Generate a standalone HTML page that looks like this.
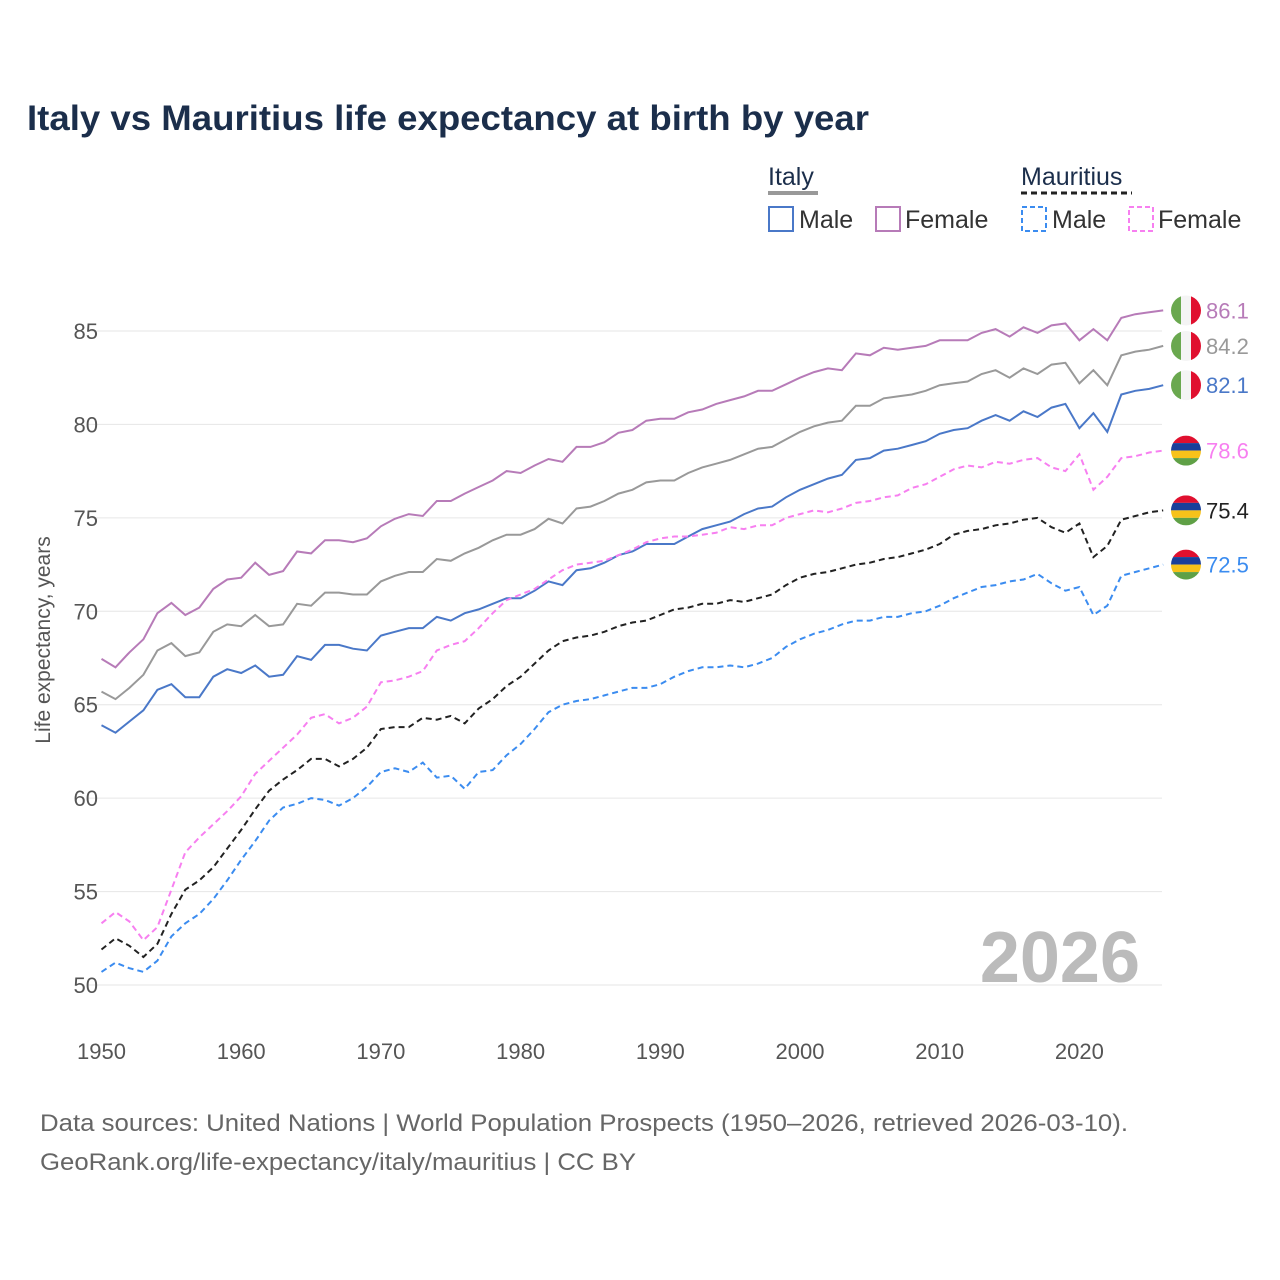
<!DOCTYPE html>
<html><head><meta charset="utf-8"><style>
body{margin:0;background:#fff;}
svg{font-family:"Liberation Sans",sans-serif;display:block;}
</style></head><body>
<svg id="chart" width="1280" height="1280" viewBox="0 0 1280 1280" xmlns="http://www.w3.org/2000/svg">
<rect width="1280" height="1280" fill="#fff"/>
<text x="27" y="130" font-size="35" font-weight="bold" fill="#1b2e4b" textLength="842" lengthAdjust="spacingAndGlyphs">Italy vs Mauritius life expectancy at birth by year</text>
<g font-size="25" fill="#333">
<text x="768" y="185" fill="#1b2e4b">Italy</text>
<line x1="768" y1="193" x2="818" y2="193" stroke="#999" stroke-width="4"/>
<text x="1021" y="185" fill="#1b2e4b">Mauritius</text>
<line x1="1021" y1="193" x2="1132" y2="193" stroke="#222" stroke-width="3" stroke-dasharray="6,4"/>
<g><rect x="769" y="207" width="24" height="24" fill="none" stroke="#4a78c8" stroke-width="2"/><text x="799" y="228">Male</text></g>
<g><rect x="876" y="207" width="24" height="24" fill="none" stroke="#b77bb8" stroke-width="2"/><text x="905" y="228">Female</text></g>
<g><rect x="1022" y="207" width="24" height="24" fill="none" stroke="#3b8cf0" stroke-width="2" stroke-dasharray="5,3"/><text x="1052" y="228">Male</text></g>
<g><rect x="1129" y="207" width="24" height="24" fill="none" stroke="#f77ff0" stroke-width="2" stroke-dasharray="5,3"/><text x="1158" y="228">Female</text></g>
</g>
<g id="grid"></g>
<text x="1140" y="982" text-anchor="end" font-size="72" font-weight="bold" fill="#bbb">2026</text>
<g id="series"></g>
<g id="labels"></g>
<text transform="translate(50,640) rotate(-90)" text-anchor="middle" font-size="21" fill="#555">Life expectancy, years</text>
<text x="40" y="1131" font-size="24" fill="#666" textLength="1088" lengthAdjust="spacingAndGlyphs">Data sources: United Nations | World Population Prospects (1950–2026, retrieved 2026-03-10).</text>
<text x="40" y="1170" font-size="24" fill="#666" textLength="596" lengthAdjust="spacingAndGlyphs">GeoRank.org/life-expectancy/italy/mauritius | CC BY</text>
</svg>
<script>
const startYear = 1950;
const xTicks = [1950,1960,1970,1980,1990,2000,2010,2020];
const yTicks = [50,55,60,65,70,75,80,85];
const italyFemale = [67.45,67.0,67.8,68.5,69.9,70.45,69.8,70.2,71.2,71.7,71.8,72.6,71.95,72.15,73.2,73.1,73.8,73.8,73.7,73.9,74.55,74.95,75.2,75.1,75.9,75.9,76.3,76.65,77.0,77.5,77.4,77.8,78.15,78.0,78.8,78.8,79.05,79.55,79.7,80.2,80.3,80.3,80.65,80.8,81.1,81.3,81.5,81.8,81.8,82.15,82.5,82.8,83.0,82.9,83.8,83.7,84.1,84.0,84.1,84.2,84.5,84.5,84.5,84.9,85.1,84.7,85.2,84.9,85.3,85.4,84.5,85.1,84.5,85.7,85.9,86.0,86.1];
const italyTotal = [65.7,65.3,65.9,66.6,67.9,68.3,67.6,67.8,68.9,69.3,69.2,69.8,69.2,69.3,70.4,70.3,71.0,71.0,70.9,70.9,71.6,71.9,72.1,72.1,72.8,72.7,73.1,73.4,73.8,74.1,74.1,74.4,74.95,74.7,75.5,75.6,75.9,76.3,76.5,76.9,77.0,77.0,77.4,77.7,77.9,78.1,78.4,78.7,78.8,79.2,79.6,79.9,80.1,80.2,81.0,81.0,81.4,81.5,81.6,81.8,82.1,82.2,82.3,82.7,82.9,82.5,83.0,82.7,83.2,83.3,82.2,82.9,82.1,83.7,83.9,84.0,84.2];
const italyMale = [63.9,63.5,64.1,64.7,65.8,66.1,65.4,65.4,66.5,66.9,66.7,67.1,66.5,66.6,67.6,67.4,68.2,68.2,68.0,67.9,68.7,68.9,69.1,69.1,69.7,69.5,69.9,70.1,70.4,70.7,70.7,71.1,71.6,71.4,72.2,72.3,72.6,73.0,73.2,73.6,73.6,73.6,74.0,74.4,74.6,74.8,75.2,75.5,75.6,76.1,76.5,76.8,77.1,77.3,78.1,78.2,78.6,78.7,78.9,79.1,79.5,79.7,79.8,80.2,80.5,80.2,80.7,80.4,80.9,81.1,79.8,80.6,79.6,81.6,81.8,81.9,82.1];
const mauFemale = [53.3,53.9,53.4,52.4,53.1,55.1,57.1,57.9,58.6,59.3,60.1,61.3,62.0,62.7,63.4,64.3,64.5,64.0,64.3,64.9,66.2,66.3,66.5,66.8,67.9,68.2,68.4,69.1,69.9,70.6,70.9,71.2,71.7,72.2,72.5,72.6,72.7,73.0,73.3,73.7,73.9,74.0,74.0,74.1,74.2,74.5,74.4,74.6,74.6,75.0,75.2,75.4,75.3,75.5,75.8,75.9,76.1,76.2,76.6,76.8,77.2,77.6,77.8,77.7,78.0,77.9,78.1,78.2,77.7,77.5,78.4,76.5,77.2,78.2,78.3,78.5,78.6];
const mauTotal = [51.9,52.5,52.1,51.5,52.2,53.8,55.1,55.6,56.3,57.3,58.3,59.4,60.4,61.0,61.5,62.1,62.1,61.7,62.1,62.7,63.7,63.8,63.8,64.3,64.2,64.4,64.0,64.8,65.3,66.0,66.5,67.2,67.9,68.4,68.6,68.7,68.9,69.2,69.4,69.5,69.8,70.1,70.2,70.4,70.4,70.6,70.5,70.7,70.9,71.4,71.8,72.0,72.1,72.3,72.5,72.6,72.8,72.9,73.1,73.3,73.6,74.1,74.3,74.4,74.6,74.7,74.9,75.0,74.5,74.2,74.7,72.9,73.5,74.9,75.1,75.3,75.4];
const mauMale = [50.7,51.2,50.9,50.7,51.3,52.6,53.3,53.8,54.6,55.6,56.7,57.7,58.8,59.5,59.7,60.0,59.9,59.6,60.0,60.6,61.4,61.6,61.4,61.9,61.1,61.2,60.5,61.4,61.5,62.3,62.9,63.7,64.6,65.0,65.2,65.3,65.5,65.7,65.9,65.9,66.1,66.5,66.8,67.0,67.0,67.1,67.0,67.2,67.5,68.1,68.5,68.8,69.0,69.3,69.5,69.5,69.7,69.7,69.9,70.0,70.3,70.7,71.0,71.3,71.4,71.6,71.7,72.0,71.5,71.1,71.3,69.8,70.3,71.9,72.1,72.3,72.5];

const NS="http://www.w3.org/2000/svg";
const x = yr => 101.5 + (yr-1950)*13.97;
const y = v => 331 + (85-v)*18.686;
function mk(tag, attrs, parent){const e=document.createElementNS(NS,tag);for(const k in attrs)e.setAttribute(k,attrs[k]);parent.appendChild(e);return e;}
const grid=document.getElementById('grid');
yTicks.forEach(t=>{
  const l=mk('line',{x1:88,x2:1162,y1:y(t),y2:y(t),stroke:'#e6e6e6','stroke-width':1},grid);
  
  
  const tx=mk('text',{x:98,y:y(t)+8,'text-anchor':'end','font-size':22,fill:'#555'},grid);
  tx.textContent=t;
  
  
});
xTicks.forEach(t=>{
  const tx=mk('text',{x:x(t),y:1059,'text-anchor':'middle','font-size':22,fill:'#555'},grid);
  tx.textContent=t;
  
  
});
const seriesG=document.getElementById('series');
const labelsG=document.getElementById('labels');
const defs=[
  {d:italyFemale,c:'#b77bb8',dash:null,n:'italy-female',flag:'it'},
  {d:italyTotal,c:'#999',dash:null,n:'italy-total',flag:'it'},
  {d:italyMale,c:'#4a78c8',dash:null,n:'italy-male',flag:'it'},
  {d:mauFemale,c:'#f77ff0',dash:'6,4',n:'mauritius-female',flag:'mu'},
  {d:mauTotal,c:'#222',dash:'6,4',n:'mauritius-total',flag:'mu'},
  {d:mauMale,c:'#3b8cf0',dash:'6,4',n:'mauritius-male',flag:'mu'}
];
defs.forEach(s=>{
  const pts=s.d.map((v,i)=>x(startYear+i).toFixed(1)+','+y(v).toFixed(1)).join(' ');
  const a={points:pts,fill:'none',stroke:s.c,'stroke-width':2};
  if(s.dash)a['stroke-dasharray']=s.dash;
  const p=mk('polyline',a,seriesG);
  
  
  const last=s.d[s.d.length-1];
  const cy=y(last), cx=1186, r=15;
  const g=mk('g',{},labelsG);
  
  
  const cid='c-'+s.n;
  const cp=mk('clipPath',{id:cid},g); mk('circle',{cx:cx,cy:cy,r:r},cp);
  const fg=mk('g',{'clip-path':'url(#'+cid+')'},g);
  if(s.flag==='it'){
    mk('rect',{x:cx-r,y:cy-r,width:10,height:30,fill:'#6aa84f'},fg);
    mk('rect',{x:cx-5,y:cy-r,width:10,height:30,fill:'#f4f4f4'},fg);
    mk('rect',{x:cx+5,y:cy-r,width:10,height:30,fill:'#e0102f'},fg);
  } else {
    ['#e0102f','#1a3f9a','#f7c21a','#5fa046'].forEach((c,i)=>mk('rect',{x:cx-r,y:cy-r+i*7.5,width:30,height:7.5,fill:c},fg));
  }
  const t=mk('text',{x:1206,y:cy+8,'font-size':22,fill:s.c},labelsG);
  t.textContent=last.toFixed(1);
  
  
});
</script>
</body></html>
